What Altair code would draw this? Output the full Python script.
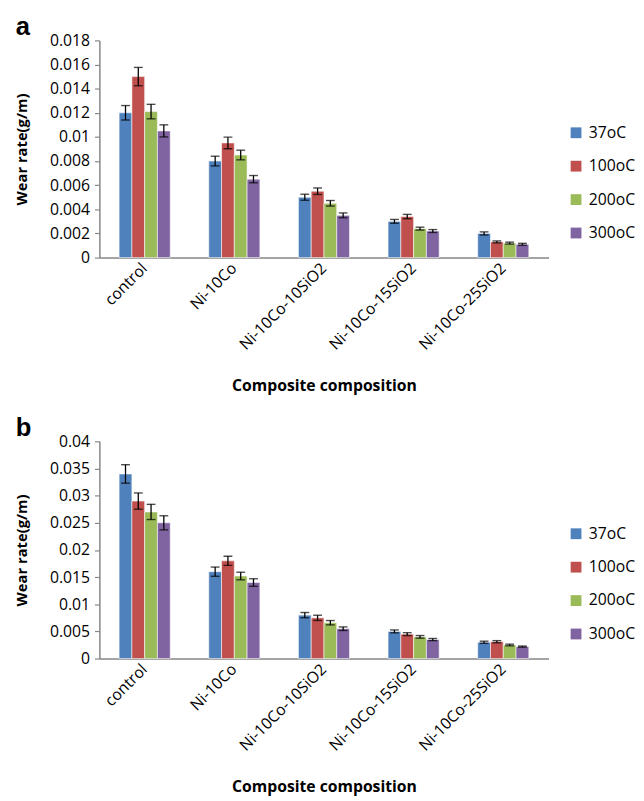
import altair as alt
import pandas as pd

categories = ["control", "Ni-10Co", "Ni-10Co-10SiO2", "Ni-10Co-15SiO2", "Ni-10Co-25SiO2"]
temps = ["37oC", "100oC", "200oC", "300oC"]
colors = ["#4F81BD", "#C0504D", "#9BBB59", "#8064A2"]

# Panel a values (per temperature, per composition)
a_37 = [0.012, 0.008, 0.005, 0.003, 0.002]
a_100 = [0.015, 0.0095, 0.0055, 0.0034, 0.0013]
a_200 = [0.0121, 0.0085, 0.0045, 0.0024, 0.0012]
a_300 = [0.0105, 0.0065, 0.0035, 0.0022, 0.0011]
a_err_37 = [0.0006, 0.0004, 0.00025, 0.00016, 0.00013]
a_err_100 = [0.00076, 0.00048, 0.00027, 0.00018, 0.00008]
a_err_200 = [0.0006, 0.0004, 0.00023, 0.00012, 0.00008]
a_err_300 = [0.0005, 0.0003, 0.0002, 0.00012, 0.00008]
a_ticks = [0, 0.002, 0.004, 0.006, 0.008, 0.01, 0.012, 0.014, 0.016, 0.018]

# Panel b values
b_37 = [0.034, 0.016, 0.008, 0.005, 0.003]
b_100 = [0.029, 0.018, 0.0075, 0.0045, 0.0031]
b_200 = [0.027, 0.0152, 0.0066, 0.004, 0.0025]
b_300 = [0.025, 0.014, 0.0055, 0.0035, 0.0022]
b_err_37 = [0.0017, 0.00085, 0.00048, 0.00027, 0.0002]
b_err_100 = [0.0015, 0.00085, 0.00048, 0.00027, 0.0002]
b_err_200 = [0.0014, 0.0007, 0.0004, 0.00024, 0.00015]
b_err_300 = [0.0013, 0.0007, 0.00033, 0.0002, 0.0001]
b_ticks = [0, 0.005, 0.01, 0.015, 0.02, 0.025, 0.03, 0.035, 0.04]

FONT = "Open Sans"


def panel(letter, vals, errs, ymax, yticks):
    rows = []
    for t_i, t in enumerate(temps):
        for c_i, c in enumerate(categories):
            rows.append({"cat": c, "temp": t, "value": vals[t_i][c_i], "err": errs[t_i][c_i]})
    df = pd.DataFrame(rows)
    base = alt.Chart(df).transform_calculate(
        lo="datum.value - datum.err", hi="datum.value + datum.err"
    )
    x = alt.X(
        "cat:N",
        sort=categories,
        scale=alt.Scale(paddingInner=0.43, paddingOuter=0.22),
        axis=alt.Axis(
            title="Composite composition",
            labelAngle=-45,
            labelAlign="right",
            labelBaseline="middle",
            labelPadding=8,
            ticks=False,
            titlePadding=26,
        ),
    )
    xo = alt.XOffset("temp:N", sort=temps, scale=alt.Scale(paddingInner=0, paddingOuter=0))
    yscale = alt.Scale(domain=[0, ymax], nice=False)
    yaxis = alt.Axis(values=yticks, format="~g", title="Wear rate(g/m)", labelOverlap=False)
    bars = base.mark_bar(stroke="white", strokeWidth=0.8, strokeOpacity=0.7).encode(
        x=x,
        xOffset=xo,
        y=alt.Y("value:Q", scale=yscale, axis=yaxis),
        color=alt.Color(
            "temp:N",
            sort=temps,
            scale=alt.Scale(domain=temps, range=colors),
            legend=alt.Legend(
                title=None,
                orient="none",
                legendX=477,
                legendY=86,
                symbolType="square",
                symbolSize=121,
                symbolStrokeWidth=0,
                labelFontSize=16,
                labelFont=FONT,
                labelOffset=5,
                rowPadding=18,
            ),
        ),
    )
    rules = base.mark_rule(color="black", strokeWidth=1.3).encode(
        x=x, xOffset=xo,
        y=alt.Y("lo:Q", scale=yscale, axis=yaxis),
        y2="hi:Q",
    )
    cap_lo = base.mark_tick(color="black", size=9, thickness=1.4).encode(
        x=x, xOffset=xo, y=alt.Y("lo:Q", scale=yscale, axis=yaxis)
    )
    cap_hi = base.mark_tick(color="black", size=9, thickness=1.4).encode(
        x=x, xOffset=xo, y=alt.Y("hi:Q", scale=yscale, axis=yaxis)
    )
    return alt.layer(bars, rules, cap_lo, cap_hi).properties(
        width=457,
        height=221,
        title=alt.Title(
            letter, anchor="start", frame="group", dx=-85, fontSize=26,
            fontWeight="bold", font="Liberation Sans", offset=-8,
        ),
    )


pa = panel("a", [a_37, a_100, a_200, a_300], [a_err_37, a_err_100, a_err_200, a_err_300], 0.018, a_ticks)
pb = panel("b", [b_37, b_100, b_200, b_300], [b_err_37, b_err_100, b_err_200, b_err_300], 0.04, b_ticks)

chart = (
    alt.vconcat(pa, pb, spacing=22)
    .resolve_scale(color="independent")
    .properties(padding={"left": 7, "top": 0, "right": 0, "bottom": 0})
    .configure_view(stroke=None)
    .configure_axis(
        labelFont=FONT,
        titleFont=FONT,
        labelColor="black",
        titleColor="black",
        domainColor="#868686",
        domainWidth=1.5,
        tickColor="#868686",
        tickWidth=1.2,
        grid=False,
    )
    .configure_axisY(labelFontSize=16, tickSize=5, labelPadding=5, titleFontSize=15,
                     titleFontWeight="bold", titlePadding=20, labelOverlap=False)
    .configure_axisX(labelFontSize=16, titleFontSize=16, titleFontWeight="bold")
)

chart.save("out.html", embed_options={"renderer": "svg", "actions": False})
